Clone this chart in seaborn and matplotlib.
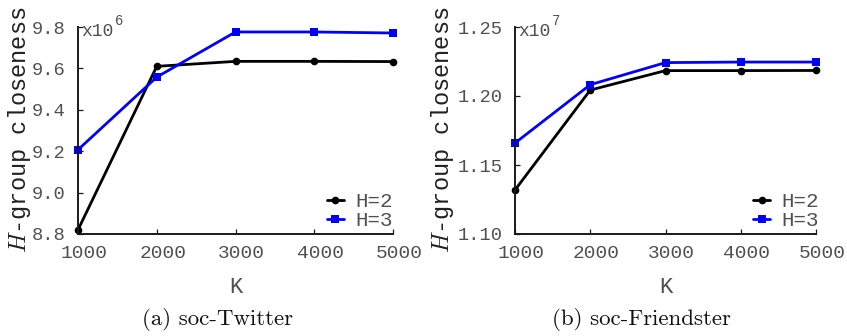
import numpy as np
import pandas as pd
import matplotlib
matplotlib.use("Agg")
import matplotlib.pyplot as plt
import seaborn as sns
from matplotlib.transforms import ScaledTranslation
from matplotlib.ticker import FormatStrFormatter

# ---- data -------------------------------------------------------------
k_values = [1000, 2000, 3000, 4000, 5000]

# soc-Twitter, values in units of 1e6
twitter_h2 = [8.82, 9.61, 9.634, 9.634, 9.633]
twitter_h3 = [9.207, 9.558, 9.776, 9.776, 9.771]

# soc-Friendster, values in units of 1e7
friendster_h2 = [1.1319, 1.2043, 1.2184, 1.2184, 1.2185]
friendster_h3 = [1.1659, 1.2082, 1.2242, 1.2246, 1.2246]

series_labels = ["H=2", "H=3"]
captions = ["(a) soc-Twitter", "(b) soc-Friendster"]
exponents = ["6", "7"]
twitter_yticks = [8.8, 9.0, 9.2, 9.4, 9.6, 9.8]
friendster_yticks = [1.10, 1.15, 1.20, 1.25]

# ---- style ------------------------------------------------------------
sns.set_theme(style="ticks")
plt.rcParams["font.family"] = ["Liberation Mono", "DejaVu Sans"]
plt.rcParams["mathtext.fontset"] = "cm"

W, H = 847, 336
DPI = 100
fig = plt.figure(figsize=(W / DPI, H / DPI), dpi=DPI)

TXT = "#505050"
palette = {"H=2": "black", "H=3": "#0000ff"}
markers = {"H=2": "o", "H=3": "s"}


def px_axes(x0, x1, ytop, ybot):
    return fig.add_axes([x0 / W, 1 - ybot / H, (x1 - x0) / W, (ybot - ytop) / H])


def fx(x):
    return x / W


def fy(y):
    return 1 - y / H


def long_frame(h2, h3):
    return pd.DataFrame({
        "K": k_values * 2,
        "val": list(h2) + list(h3),
        "H": [series_labels[0]] * len(k_values) + [series_labels[1]] * len(k_values),
    })


panels = [
    dict(box=(78, 393, 27, 234), h2=twitter_h2, h3=twitter_h3,
         yticks=twitter_yticks, fmt="%.1f", cap_x=217.5, ylab_x=26),
    dict(box=(515, 816, 27, 234), h2=friendster_h2, h3=friendster_h3,
         yticks=friendster_yticks, fmt="%.2f", cap_x=641, ylab_x=449),
]

for i, p in enumerate(panels):
    x0, x1, yt, yb = p["box"]
    ax = px_axes(x0, x1, yt, yb)
    df = long_frame(p["h2"], p["h3"])
    sns.lineplot(data=df, x="K", y="val", hue="H", style="H",
                 markers=markers, dashes=False, palette=palette,
                 linewidth=2.0, markersize=5.5, markeredgewidth=0,
                 ax=ax, legend=True)
    for ln in ax.lines:
        ln.set_clip_on(False)

    ax.set_xlim(k_values[0], k_values[-1])
    ax.set_ylim(p["yticks"][0], p["yticks"][-1])
    ax.set_xticks(k_values)
    ax.set_yticks(p["yticks"])
    ax.yaxis.set_major_formatter(FormatStrFormatter(p["fmt"]))
    ax.set_xlabel("")
    ax.set_ylabel("")
    ax.set_facecolor("white")

    for side in ("top", "right"):
        ax.spines[side].set_visible(False)
    for side in ("left", "bottom"):
        ax.spines[side].set_linewidth(1.4)
        ax.spines[side].set_color("#1a1a1a")

    ax.tick_params(axis="both", direction="in", length=3.5, width=0.9,
                   color="#1a1a1a", labelcolor=TXT)
    ax.tick_params(axis="x", pad=8, labelsize=14)
    ax.tick_params(axis="y", pad=9, labelsize=13.5)

    shift = ScaledTranslation(6 / DPI, 0, fig.dpi_scale_trans)
    for lab in ax.get_xticklabels():
        lab.set_transform(lab.get_transform() + shift)

    leg = ax.legend(loc="center left", bbox_to_anchor=(0.757, 0.11),
                    frameon=False, borderpad=0, handlelength=0.8,
                    handletextpad=0.55, labelspacing=0.0,
                    prop={"family": "Liberation Mono", "size": 15})
    for t in leg.get_texts():
        t.set_color(TXT)

    # x-axis label
    cx = (x0 + x1) / 2
    fig.text(fx(cx), fy(293), "K", ha="center", va="baseline",
             fontsize=16, color=TXT)

    # y-axis label: italic H followed by the monospace text
    fig.text(fx(p["ylab_x"]), fy(253), r"$H$-group closeness", rotation=90,
             rotation_mode="anchor", ha="left", va="baseline",
             fontsize=17, color="#222222")

    # scale factor at the top of the y axis
    fig.text(fx(x0 + 3), fy(36), "x10", ha="left", va="baseline",
             fontsize=13, color=TXT)
    fig.text(fx(x0 + 37), fy(25), exponents[i], ha="left",
             va="baseline", fontsize=10, color=TXT)

    # caption
    fig.text(fx(p["cap_x"]), fy(325), captions[i], ha="center",
             va="baseline", fontsize=16.5, family="cmr10", color="#111111")

fig.savefig("out.png", dpi=DPI, facecolor="white")
